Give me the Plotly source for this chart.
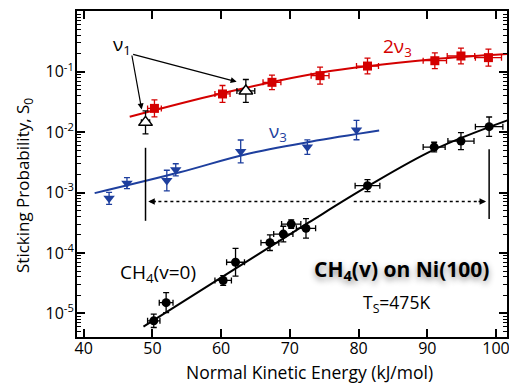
import plotly.graph_objects as go

# ---------------- data ----------------
# CH4(v=0)
e_v0 = [50.2, 52.0, 60.3, 62.1, 67.1, 69.05, 70.2, 72.35, 81.3, 91.0, 94.9, 99.0]
s_v0 = [7.5e-6, 1.5e-5, 3.5e-5, 7.0e-5, 1.48e-4, 2.05e-4, 3.0e-4, 2.55e-4, 1.3e-3, 5.65e-3, 7.1e-3, 1.23e-2]
ex_v0 = [0.9, 1.0, 1.2, 1.3, 1.3, 1.4, 1.4, 1.4, 1.8, 1.6, 1.9, 2.0]
ey_v0_dec = [0.11, 0.165, 0.08, 0.23, 0.13, 0.13, 0.07, 0.16, 0.10, 0.08, 0.14, 0.16]

# 2nu3
e_2v3 = [50.3, 60.2, 67.4, 74.4, 81.3, 91.1, 94.9, 98.9]
s_2v3 = [0.0247, 0.0428, 0.0667, 0.086, 0.124, 0.152, 0.182, 0.171]
ex_2v3 = [1.0, 1.1, 1.3, 1.3, 1.6, 1.7, 2.0, 1.9]
ey_2v3_dec = [0.14, 0.14, 0.12, 0.14, 0.13, 0.13, 0.13, 0.14]

# nu1
e_v1 = [49.0, 63.6]
s_v1 = [0.0145, 0.048]
ex_v1 = [0.6, 1.3]
ey_v1_dec = [0.19, 0.19]

# nu3
e_v3 = [43.7, 46.3, 52.1, 53.4, 62.85, 72.55, 79.7]
s_v3 = [8.0e-4, 1.43e-3, 1.58e-3, 2.38e-3, 4.78e-3, 5.65e-3, 1.08e-2]
ey_v3_dec = [0.10, 0.09, 0.17, 0.10, 0.19, 0.12, 0.16]

# fitted curves (log10 S0)
fit_v0_e = [48.7, 60.0, 72.7, 81.3, 91.0, 101.8]
fit_v0_log = [-5.22, -4.41, -3.50, -2.90, -2.29, -1.80]
fit_2v3_e = [46.7, 60.0, 74.4, 90.9, 101.8]
fit_2v3_log = [-1.745, -1.36, -1.016, -0.795, -0.707]
fit_v3_e = [41.6, 54.0, 63.5, 73.0, 83.0]
fit_v3_log = [-3.01, -2.665, -2.37, -2.16, -1.975]

x_ticks = [40, 50, 60, 70, 80, 90, 100]
y_tick_exp = [-5, -4, -3, -2, -1]

RED = "#d40000"
BLUE = "#1e3f9e"
FONT = "Open Sans"


def errs(vals, decs):
    plus = [v * (10 ** d - 1) for v, d in zip(vals, decs)]
    minus = [v * (1 - 10 ** (-d)) for v, d in zip(vals, decs)]
    return plus, minus


fig = go.Figure()

# curves
fig.add_trace(go.Scatter(x=fit_v0_e, y=[10 ** v for v in fit_v0_log], mode="lines",
                         line=dict(color="black", width=2, shape="spline"), hoverinfo="skip"))
fig.add_trace(go.Scatter(x=fit_2v3_e, y=[10 ** v for v in fit_2v3_log], mode="lines",
                         line=dict(color=RED, width=2, shape="spline"), hoverinfo="skip"))
fig.add_trace(go.Scatter(x=fit_v3_e, y=[10 ** v for v in fit_v3_log], mode="lines",
                         line=dict(color=BLUE, width=2, shape="spline"), hoverinfo="skip"))

# CH4(v=0) points
p, m = errs(s_v0, ey_v0_dec)
fig.add_trace(go.Scatter(
    x=e_v0, y=s_v0, mode="markers",
    marker=dict(symbol="circle", size=9, color="black"),
    error_y=dict(type="data", symmetric=False, array=p, arrayminus=m, color="black", thickness=1.3, width=3),
    error_x=dict(type="data", array=ex_v0, color="black", thickness=1.3, width=3)))

# 2nu3 points
p, m = errs(s_2v3, ey_2v3_dec)
fig.add_trace(go.Scatter(
    x=e_2v3, y=s_2v3, mode="markers",
    marker=dict(symbol="square", size=9, color=RED),
    error_y=dict(type="data", symmetric=False, array=p, arrayminus=m, color=RED, thickness=1.3, width=3),
    error_x=dict(type="data", array=ex_2v3, color=RED, thickness=1.3, width=3)))

# nu1 points
p, m = errs(s_v1, ey_v1_dec)
fig.add_trace(go.Scatter(
    x=e_v1, y=s_v1, mode="markers",
    marker=dict(symbol="triangle-up", size=12, color="white", line=dict(color="black", width=1.5)),
    error_y=dict(type="data", symmetric=False, array=p, arrayminus=m, color="black", thickness=1.3, width=3),
    error_x=dict(type="data", array=ex_v1, color="black", thickness=1.3, width=3)))

# nu3 points
p, m = errs(s_v3, ey_v3_dec)
fig.add_trace(go.Scatter(
    x=e_v3, y=s_v3, mode="markers",
    marker=dict(symbol="triangle-down", size=10, color=BLUE),
    error_y=dict(type="data", symmetric=False, array=p, arrayminus=m, color=BLUE, thickness=1.3, width=3)))

# vertical markers and dotted double arrow (shapes use linear values on log axis)
fig.add_shape(type="line", x0=49.0, x1=49.0, y0=5.5e-3, y1=3.4e-4, line=dict(color="black", width=1.5))
fig.add_shape(type="line", x0=99.0, x1=99.0, y0=5.2e-3, y1=3.66e-4, line=dict(color="black", width=1.5))
fig.add_shape(type="line", x0=50.0, x1=76.8, y0=7.1e-4, y1=7.1e-4, line=dict(color="black", width=1.3, dash="dot"))
fig.add_shape(type="line", x0=79.3, x1=97.9, y0=7.1e-4, y1=7.1e-4, line=dict(color="black", width=1.3, dash="dot"))

ann = []
ylog_arrow = -3.149
ann.append(dict(x=49.4, y=ylog_arrow, xref="x", yref="y", ax=9, ay=0, text="", showarrow=True,
                arrowhead=2, arrowsize=1, arrowwidth=1.3, arrowcolor="black"))
ann.append(dict(x=98.55, y=ylog_arrow, xref="x", yref="y", ax=-9, ay=0, text="", showarrow=True,
                arrowhead=2, arrowsize=1, arrowwidth=1.3, arrowcolor="black"))
# nu1 arrows
ann.append(dict(x=48.44, y=-1.624, xref="x", yref="y", axref="x", ayref="y", ax=46.98, ay=-0.707,
                text="", showarrow=True, arrowhead=2, arrowsize=1, arrowwidth=1.2, arrowcolor="black"))
ann.append(dict(x=62.26, y=-1.166, xref="x", yref="y", axref="x", ayref="y", ax=46.98, ay=-0.707,
                text="", showarrow=True, arrowhead=2, arrowsize=1, arrowwidth=1.2, arrowcolor="black"))

# labels
ann.append(dict(x=45.65, y=-0.558, xref="x", yref="y", text="ν<sub>1</sub>", showarrow=False,
                font=dict(family=FONT, size=19, color="black")))
ann.append(dict(x=85.66, y=-0.596, xref="x", yref="y", text="2ν<sub>3</sub>", showarrow=False,
                font=dict(family=FONT, size=19, color=RED)))
ann.append(dict(x=68.27, y=-2.005, xref="x", yref="y", text="ν<sub>3</sub>", showarrow=False,
                font=dict(family=FONT, size=19, color=BLUE)))
ann.append(dict(x=50.81, y=-4.338, xref="x", yref="y", text="CH<sub>4</sub>(v=0)", showarrow=False,
                font=dict(family=FONT, size=19, color="black")))
ann.append(dict(x=86.39, y=-4.283, xref="x", yref="y", text="<b>CH<sub>4</sub>(v) on Ni(100)</b>", showarrow=False,
                font=dict(family=FONT, size=21, color="black", shadow="0px 3px 6px rgba(0,0,0,0.45)")))
ann.append(dict(x=85.55, y=-4.84, xref="x", yref="y", text="T<sub>S</sub>=475K", showarrow=False,
                font=dict(family=FONT, size=17.5, color="black")))

# axis titles
ann.append(dict(x=(309 - 77) / 430, y=0.0, xref="paper", yref="paper", yshift=-35,
                xanchor="center", yanchor="middle",
                text="Normal Kinetic Energy (kJ/mol)", showarrow=False,
                font=dict(family=FONT, size=17.5, color="black")))
ann.append(dict(x=(23 - 77) / 430, y=(337 - 186) / 326, xref="paper", yref="paper", textangle=-90,
                xanchor="center", yanchor="middle",
                text="Sticking Probability, S<sub>0</sub>", showarrow=False,
                font=dict(family=FONT, size=17, color="black")))
fig.update_layout(annotations=ann)

minor_vals = [k * 10 ** e for e in range(-6, 1) for k in range(2, 10)]

fig.update_layout(
    width=509, height=383,
    margin=dict(l=77, r=2, t=11, b=46),
    paper_bgcolor="white", plot_bgcolor="white",
    showlegend=False,
    font=dict(family=FONT, size=16, color="black"),
    xaxis=dict(range=[39.03, 101.6], tickvals=x_ticks, ticks="inside", ticklen=8, tickwidth=1.5,
               tickcolor="black", showline=True, linecolor="black", linewidth=2, mirror="ticks",
               showgrid=False, zeroline=False, tickfont=dict(family=FONT, size=16),
               automargin=False, ticklabelstandoff=-4, ticklabeloverflow="allow"),
    yaxis=dict(type="log", range=[-5.392, 0.005],
               tickvals=[10 ** e for e in y_tick_exp],
               ticktext=["10<sup>%d</sup>" % e for e in y_tick_exp],
               ticks="inside", ticklen=8, tickwidth=1.5, tickcolor="black",
               minor=dict(tickvals=minor_vals, ticks="inside", ticklen=4, tickwidth=1, tickcolor="black", showgrid=False),
               showline=True, linecolor="black", linewidth=2, mirror="ticks",
               showgrid=False, zeroline=False, tickfont=dict(family=FONT, size=16),
               automargin=False, ticklabelstandoff=-2),
)

fig.write_html("out.html", config={"displayModeBar": False},
               post_script="document.body.style.margin='0';document.body.style.overflow='hidden';")
